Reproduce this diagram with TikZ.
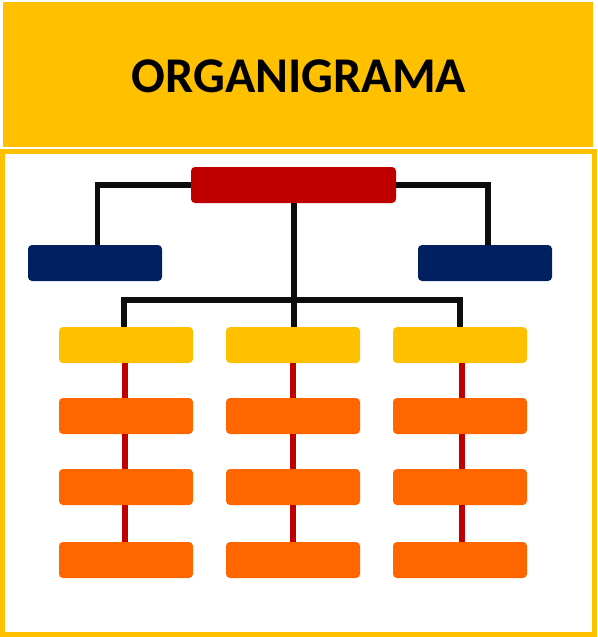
\documentclass[tikz,border=0pt]{standalone}
\usepackage{fontspec}
\setmainfont{Carlito}
\definecolor{gold}{HTML}{FFC000}
\definecolor{chiefred}{HTML}{C00000}
\definecolor{navy}{HTML}{002060}
\definecolor{unitorange}{HTML}{FF6600}
\definecolor{linkblack}{HTML}{0D0D0D}
\begin{document}
\begin{tikzpicture}[x=1pt,y=-1pt,
  box/.style={rectangle,rounded corners=4pt,inner sep=0pt,minimum height=36pt,minimum width=134pt},
  chief/.style={box,fill=chiefred,minimum width=205pt},
  staff/.style={box,fill=navy},
  head/.style={box,fill=gold},
  unit/.style={box,fill=unitorange},
  trunk/.style={draw=linkblack,line width=5.5pt,line join=miter},
  branch/.style={draw=chiefred,line width=6pt}]
\useasboundingbox (0,0) rectangle (597,637);
% title banner and chart frame
\fill[gold] (3,2) rectangle (593,147);
\node[anchor=base,font=\fontsize{50}{58}\selectfont\bfseries] (title) at (299,92) {ORGANIGRAMA};
\draw[gold,line width=5pt] (2.5,151.5) rectangle (594.5,634.5);
% boxes
\node[chief] (top) at (293.5,185) {};
\node[staff] (sl) at (95,263) {};
\node[staff] (sr) at (485,263) {};
\foreach \c/\x in {1/126,2/293,3/460}{
  \node[head] (h\c) at (\x,345) {};
  \node[unit] (u\c a) at (\x,416) {};
  \node[unit] (u\c b) at (\x,487) {};
  \node[unit] (u\c c) at (\x,560) {};
}
\coordinate (bus) at (294,300);
% black links
\draw[trunk] (top.west) -| ([xshift=2.5pt]sl.north);
\draw[trunk] (top.east) -| ([xshift=3pt]sr.north);
\draw[trunk] ([xshift=0.5pt]top.south) -- ([xshift=1pt]h2.north);
\draw[trunk] ([xshift=-2pt]h1.north) |- (bus) -| (h3.north);
% red links
\foreach \c/\d in {1/-1,2/0,3/2}{
  \draw[branch] ([xshift=\d pt]h\c.south) -- ([xshift=\d pt]u\c a.north);
  \draw[branch] ([xshift=\d pt]u\c a.south) -- ([xshift=\d pt]u\c b.north);
  \draw[branch] ([xshift=\d pt]u\c b.south) -- ([xshift=\d pt]u\c c.north);
}
\end{tikzpicture}
\end{document}
